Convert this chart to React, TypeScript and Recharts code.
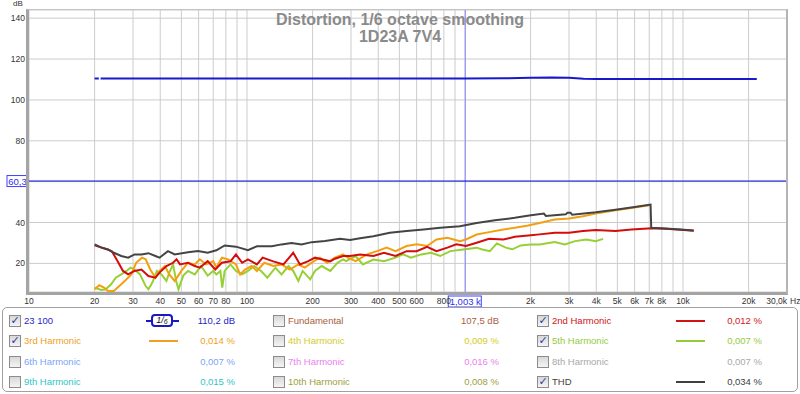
import React from "react"
import { LineChart, Line, XAxis, YAxis, CartesianGrid, ReferenceLine } from "recharts"

// frequency grid (vertical lines) and the tick labels actually printed
const gridFreqs = [10, 20, 30, 40, 50, 60, 70, 80, 90, 100, 200, 300, 400, 500, 600, 700, 800, 900, 1000, 2000, 3000, 4000, 5000, 6000, 7000, 8000, 9000, 10000, 20000, 30000]
const labelFreqs = [10, 20, 30, 40, 50, 60, 70, 80, 100, 200, 300, 400, 500, 600, 800, 2000, 3000, 4000, 5000, 6000, 7000, 8000, 10000, 20000, 30000]
const labelTexts = ["10", "20", "30", "40", "50", "60", "70", "80", "100", "200", "300", "400", "500", "600", "800", "2k", "3k", "4k", "5k", "6k", "7k", "8k", "10k", "20k", "30,0k"]
const dbTicks = [20, 40, 60, 80, 100, 120, 140]

const cursorFreq = 1003
const cursorText = "1,003 k"
const levelDb = 60.3
const levelText = "60,3"

// fundamental ("23 100")
const fundFreq = [20, 20.9, 21.1, 21.3, 100, 1000, 1500, 2000, 2500, 3000, 3500, 4000, 6000, 10000, 15000, 21800]
const fundDb = [110.5, 110.5, null, 110.5, 110.5, 110.5, 110.6, 110.8, 111.0, 110.8, 110.4, 110.2, 110.2, 110.2, 110.2, 110.2]

// THD
const thdFreq = [20, 21.5, 23, 24.5, 26.5, 28.5, 30.5, 32.8, 35.3, 38, 39.7, 43.4, 46.6, 53.6, 59.6, 66, 72.4, 79, 89, 101, 111, 130, 144, 160, 178, 198, 228, 267, 297, 330, 380, 452, 540, 645, 770, 948, 1131, 1372, 1692, 1970, 2300, 2350, 2900, 2950, 3050, 3100, 3980, 4900, 6000, 6900, 7100, 7150, 8300, 9730, 11200]
const thdDb = [29.3, 27.7, 26.8, 25.2, 23.6, 22.8, 24.4, 24.4, 25.0, 23.6, 22.8, 26.0, 24.4, 25.5, 26.0, 25.2, 26.4, 28.8, 28.2, 26.5, 28.4, 28.4, 29.3, 30.0, 29.3, 30.4, 31.0, 32.0, 31.4, 32.3, 33.3, 35.0, 35.8, 36.6, 37.4, 38.2, 39.8, 41.1, 42.3, 43.4, 44.4, 43.2, 44.0, 44.8, 44.8, 43.8, 45.0, 46.3, 47.6, 48.6, 48.8, 37.4, 37.1, 36.6, 36.1]

// 2nd harmonic
const h2Freq = [20, 23, 24, 25.5, 27, 28.5, 30.5, 32.8, 35.3, 38, 39.7, 42.7, 45.8, 47.5, 49.3, 53.6, 57.6, 60.7, 66, 71.5, 76.7, 84, 89, 95, 101, 111, 118, 132, 147, 163, 175, 190, 205, 220, 241, 253, 276, 297, 330, 380, 425, 480, 540, 600, 670, 740, 830, 913, 1010, 1131, 1290, 1500, 1692, 1950, 2200, 2580, 3000, 3480, 3980, 4900, 5800, 6900, 7150, 8300, 9730, 11200]
const h2Db = [28.8, 26.8, 25.9, 21.1, 16.3, 14.6, 16.3, 17.0, 13.8, 13.0, 15.5, 18.7, 20.3, 22.0, 19.5, 20.3, 18.7, 17.9, 21.1, 17.0, 20.3, 21.0, 24.4, 20.3, 22.0, 19.5, 22.8, 21.0, 19.5, 25.2, 19.5, 21.0, 22.8, 22.0, 21.0, 22.3, 23.6, 23.6, 24.4, 23.6, 25.2, 23.6, 26.0, 26.0, 28.1, 26.0, 27.7, 29.3, 28.5, 30.1, 32.0, 31.7, 33.0, 33.7, 34.2, 35.0, 35.0, 35.8, 36.3, 35.8, 36.6, 37.1, 37.2, 37.0, 36.5, 36.0]

// 3rd harmonic
const h3Freq = [20, 21, 22, 23, 24.5, 26.5, 28, 29.5, 31, 33, 34.3, 36, 38, 39.7, 42, 44, 46.6, 50, 53.6, 57.6, 60.7, 65, 70, 72.4, 76.7, 82, 89, 93, 98, 105, 111, 120, 132, 144, 157, 172, 184, 202, 216, 233, 253, 276, 290, 315, 355, 395, 437, 480, 540, 600, 670, 740, 830, 948, 1010, 1131, 1290, 1500, 1692, 1950, 2200, 2580, 3000, 3480, 3980, 4900, 6000, 7000]
const h3Db = [7.3, 9.3, 8.3, 6.5, 6.5, 9.8, 12.2, 14.6, 20.3, 22.8, 22.0, 17.0, 13.0, 16.3, 18.7, 14.6, 11.4, 16.3, 20.3, 19.5, 22.0, 19.5, 21.1, 17.9, 22.8, 22.0, 19.5, 14.6, 17.0, 18.7, 16.3, 20.3, 18.7, 19.5, 17.0, 19.5, 17.9, 21.0, 22.8, 20.3, 22.8, 24.4, 22.8, 21.1, 24.4, 26.0, 27.7, 26.0, 28.5, 29.3, 28.5, 31.7, 32.5, 30.9, 31.7, 34.1, 35.3, 36.6, 37.4, 38.5, 39.8, 41.5, 42.0, 43.1, 44.4, 46.0, 47.3, 48.4]

// 5th harmonic
const h5Freq = [20, 21.5, 22.5, 23.8, 25, 26.5, 28, 29.2, 30.5, 32.3, 34.3, 35.3, 36.8, 38.6, 40.5, 42.7, 44, 45.8, 47.5, 48.5, 51, 53.6, 57.6, 61.5, 66, 70, 72.4, 75.5, 77, 79, 84, 89, 95, 101, 108, 116, 124, 135, 144, 155, 163, 172, 180, 195, 205, 220, 241, 260, 276, 285, 315, 340, 380, 425, 480, 520, 565, 630, 700, 770, 855, 980, 1131, 1190, 1300, 1400, 1540, 1650, 1800, 2000, 2200, 2580, 2870, 3200, 3600, 3980, 4300]
const h5Db = [8.1, 7.0, 7.3, 9.8, 13.0, 14.6, 16.3, 17.9, 17.0, 14.6, 8.9, 7.3, 10.6, 16.3, 14.6, 11.4, 15.5, 19.5, 10.6, 7.3, 14.0, 16.3, 14.6, 18.7, 14.0, 16.3, 14.6, 16.3, 8.1, 16.3, 19.5, 16.3, 14.6, 16.3, 18.7, 16.3, 13.0, 17.9, 14.6, 18.7, 16.3, 11.4, 16.3, 12.2, 16.3, 18.7, 16.3, 20.3, 22.0, 21.1, 23.6, 19.5, 21.9, 21.1, 22.8, 24.4, 22.8, 24.4, 25.2, 23.6, 26.0, 26.8, 27.7, 26.9, 26.0, 29.8, 27.7, 26.9, 28.8, 29.3, 29.3, 30.5, 29.3, 30.9, 31.7, 30.9, 32.0]

// legend (row-major, 3 columns x 4 rows)
const legendNames = ["23 100", "Fundamental", "2nd Harmonic", "3rd Harmonic", "4th Harmonic", "5th Harmonic", "6th Harmonic", "7th Harmonic", "8th Harmonic", "9th Harmonic", "10th Harmonic", "THD"]
const legendValues = ["110,2 dB", "107,5 dB", "0,012 %", "0,014 %", "0,009 %", "0,007 %", "0,007 %", "0,016 %", "0,007 %", "0,015 %", "0,008 %", "0,034 %"]
const legendColors = ["#2424c8", "#a8603c", "#d01414", "#f0a020", "#d4cc1c", "#94cc3c", "#7ca4f8", "#ec80ec", "#a8a8a8", "#30c4c8", "#a0a040", "#404040"]
const legendChecked = [true, false, true, true, false, true, false, false, false, false, false, true]

const pts = (f: number[], v: (number | null)[]) => f.map((x, i) => ({ f: x, v: v[i] }))

const FONT = "'Liberation Sans', Arial, sans-serif"

function FreqTick(props: any) {
  const { x, y, payload } = props
  const i = labelFreqs.indexOf(payload.value)
  if (i < 0) return <g />
  if (payload.value === 30000) {
    return (
      <g fontSize={8.5} fill="#333" fontFamily={FONT}>
        <text x={x} y={y + 12} textAnchor="end">{labelTexts[i]}</text>
        <text x={x + 3} y={y + 12} textAnchor="start">Hz</text>
      </g>
    )
  }
  return (
    <text x={x} y={y + 12} textAnchor="middle" fontSize={8.5} fill="#333" fontFamily={FONT}>
      {labelTexts[i]}
    </text>
  )
}

function DbTick(props: any) {
  const { x, y, payload } = props
  if (payload.value === 60) return <g />
  return (
    <text x={x} y={y + 3} textAnchor="end" fontSize={8.5} fill="#333" fontFamily={FONT}>
      {payload.value}
    </text>
  )
}

function CursorLabel(props: any) {
  const { x, y, height } = props.viewBox
  const by = y + height + 4
  return (
    <g>
      <rect x={x - 17} y={by} width={33} height={11} fill="#fff" stroke="#4040ff" />
      <text x={x} y={by + 9} textAnchor="middle" fontSize={9.5} fill="#3030f0" fontFamily={FONT}>{cursorText}</text>
    </g>
  )
}

function LevelLabel(props: any) {
  const { x, y } = props.viewBox
  return (
    <g>
      <rect x={x - 22} y={y - 5.5} width={21} height={11} fill="#fff" stroke="#4040ff" />
      <text x={x - 11.5} y={y + 3.5} textAnchor="middle" fontSize={9.5} fill="#3030f0" fontFamily={FONT}>{levelText}</text>
    </g>
  )
}

function CheckBox({ checked }: { checked: boolean }) {
  return (
    <span
      style={{
        position: "absolute",
        width: 10,
        height: 10,
        border: "1px solid #8c8c8c",
        background: "linear-gradient(#d8d8d8, #f4f4f4)",
        color: "#2a3c9c",
        fontSize: 11,
        lineHeight: "10px",
        textAlign: "center",
        fontFamily: "'DejaVu Sans', sans-serif",
        fontWeight: "bold",
      }}
    >
      {checked ? "✓" : ""}
    </span>
  )
}

function Legend() {
  const colBox = [8, 272, 536]
  const colLabel = [23, 287, 551]
  const colValueRight = [236, 500, 763]
  const colSample = [148, -1, 675]
  const rowY = [320, 340, 361, 381]
  return (
    <div
      style={{
        position: "absolute",
        left: 2,
        top: 307,
        width: 796,
        height: 85,
        boxSizing: "border-box",
        border: "1px solid #a0a0a0",
        borderRadius: 5,
      }}
    >
      {legendNames.map((name, i) => {
        const c = i % 3
        const r = Math.floor(i / 3)
        const cy = rowY[r] - 307
        const color = legendColors[i]
        return (
          <React.Fragment key={name}>
            <div style={{ position: "absolute", left: colBox[c] - 2, top: cy - 6 }}>
              <CheckBox checked={legendChecked[i]} />
            </div>
            <div style={{ position: "absolute", left: colLabel[c] - 2, top: cy - 7, fontSize: 9.5, lineHeight: "13px", color, whiteSpace: "nowrap" }}>
              {name}
            </div>
            <div style={{ position: "absolute", right: 796 - (colValueRight[c] - 2), top: cy - 7, fontSize: 9.5, lineHeight: "13px", color, whiteSpace: "nowrap" }}>
              {legendValues[i]}
            </div>
            {i === 0 ? (
              <div style={{ position: "absolute", left: colSample[c] - 5, top: cy - 7 }}>
                <div style={{ position: "absolute", left: 0, top: 6, width: 33, height: 2, background: "#1818c8" }} />
                <div
                  style={{
                    position: "absolute",
                    left: 5,
                    top: 0,
                    width: 22,
                    height: 13,
                    boxSizing: "border-box",
                    border: "2px solid #1818c8",
                    borderRadius: 4,
                    background: "#fff",
                    color: "#101010",
                    fontSize: 9,
                    lineHeight: "9px",
                    textAlign: "center",
                    fontStyle: "italic",
                  }}
                >
                  1/<span style={{ fontSize: 7, position: "relative", top: 1 }}>6</span>
                </div>
              </div>
            ) : colSample[c] > 0 && legendChecked[i] ? (
              <div style={{ position: "absolute", left: colSample[c] - 2, top: cy - 1, width: 29, height: 2, background: color }} />
            ) : null}
          </React.Fragment>
        )
      })}
    </div>
  )
}

export default function App() {
  return (
    <div style={{ position: "fixed", left: 0, top: 0, width: 800, height: 394, background: "#fff", fontFamily: FONT, overflow: "hidden" }}>
      <LineChart width={800} height={310} margin={{ top: 10, right: 13, bottom: 0, left: 0 }}>
        <CartesianGrid stroke="#cccccc" strokeWidth={1} />
        <XAxis
          dataKey="f"
          type="number"
          scale="log"
          domain={[10, 30000]}
          allowDataOverflow
          ticks={gridFreqs}
          interval={0}
          height={18}
          axisLine={false}
          tickLine={false}
          tickSize={0}
          tickMargin={0}
          tick={FreqTick}
        />
        <YAxis
          type="number"
          domain={[6, 144]}
          allowDataOverflow
          ticks={dbTicks}
          interval={0}
          width={29}
          axisLine={false}
          tickLine={false}
          tickSize={0}
          tickMargin={4}
          tick={DbTick}
        />
        <ReferenceLine x={cursorFreq} stroke="#8888ff" strokeWidth={1} label={CursorLabel} />
        <ReferenceLine y={levelDb} stroke="#0000dc" strokeWidth={1} label={LevelLabel} />
        <Line data={pts(fundFreq, fundDb)} dataKey="v" type="linear" stroke="#1818cc" strokeWidth={2} dot={false} isAnimationActive={false} connectNulls={false} />
        <Line data={pts(h5Freq, h5Db)} dataKey="v" type="linear" stroke="#96d034" strokeWidth={2} dot={false} isAnimationActive={false} />
        <Line data={pts(h3Freq, h3Db)} dataKey="v" type="linear" stroke="#f2a010" strokeWidth={2} dot={false} isAnimationActive={false} />
        <Line data={pts(h2Freq, h2Db)} dataKey="v" type="linear" stroke="#d40c0c" strokeWidth={2} dot={false} isAnimationActive={false} />
        <Line data={pts(thdFreq, thdDb)} dataKey="v" type="linear" stroke="#444444" strokeWidth={2} dot={false} isAnimationActive={false} />
      </LineChart>

      {/* plot frame */}
      <div
        style={{
          position: "absolute",
          left: 26,
          top: 9,
          width: 762,
          height: 286,
          boxSizing: "border-box",
          borderLeft: "3px solid #a4a4a4",
          borderBottom: "3px solid #a4a4a4",
          borderTop: "1px solid #c4c4c4",
          borderRight: "2px solid #b4b4b4",
          pointerEvents: "none",
        }}
      />

      <div style={{ position: "absolute", left: 13, top: 0, fontSize: 8, lineHeight: "8px", color: "#333" }}>dB</div>

      <div style={{ position: "absolute", left: 0, width: 800, top: 11, textAlign: "center", fontSize: 16, fontWeight: "bold", color: "#8a8a8a", lineHeight: "17px" }}>
        Distortion, 1/6 octave smoothing
        <br />
        1D23A 7V4
      </div>

      <Legend />
    </div>
  )
}
